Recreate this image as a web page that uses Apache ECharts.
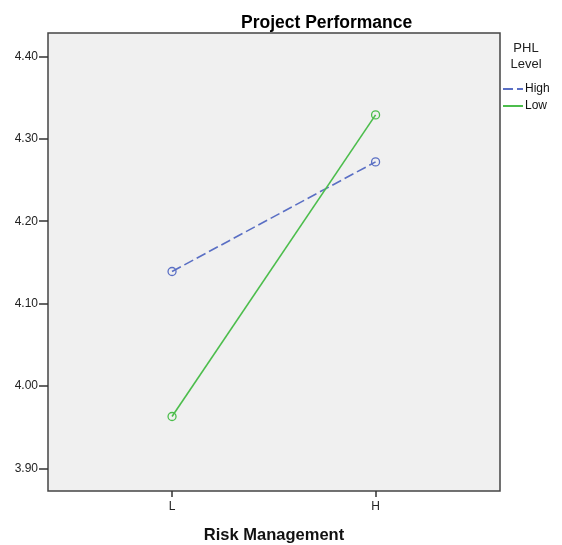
<!DOCTYPE html>
<html><head><meta charset="utf-8">
<script src="https://cdn.jsdelivr.net/npm/echarts@6/dist/echarts.min.js"></script>
<style>html,body{margin:0;padding:0;background:#fff}#c{width:562px;height:545px}</style>
</head><body><div id="c"></div>
<script>
var categories = ['L', 'H'];
var highValues = [4.139, 4.272];
var lowValues = [3.963, 4.329];
var yTicks = [3.90, 4.00, 4.10, 4.20, 4.30, 4.40];
var seriesNames = ['High', 'Low'];

function pts(vals) { return vals.map(function (v, i) { return [i + 1, v]; }); }
var xPos = categories.map(function (c, i) { return i + 1; });

var chart = echarts.init(document.getElementById('c'), null, {renderer: 'canvas'});
chart.setOption({
  animation: false,
  backgroundColor: '#ffffff',
  textStyle: {fontFamily: 'Liberation Sans, Arial, sans-serif'},
  title: {
    text: 'Project Performance', left: 236, top: 9,
    textStyle: {fontSize: 17.5, fontWeight: 'bold', color: '#000', fontFamily: 'Liberation Sans'}
  },
  graphic: [{
    type: 'text', x: 526, y: 40,
    style: {text: 'PHL\nLevel', fontSize: 13, lineHeight: 16, fill: '#222', align: 'center', fontFamily: 'Liberation Sans'}
  }],
  legend: {
    orient: 'vertical', left: 497, top: 78, itemWidth: 20, itemHeight: 10, itemGap: 5,
    textStyle: {fontSize: 12, color: '#111', padding: [0, 0, 0, -3]},
    data: seriesNames,
    itemStyle: {opacity: 0}
  },
  grid: {
    left: 48, top: 33, width: 452, height: 458, show: true, outerBoundsMode: 'none',
    backgroundColor: '#f0f0f0', borderColor: '#444', borderWidth: 1.5
  },
  xAxis: {
    type: 'value', min: 0.3906, max: 2.6113,
    name: 'Risk Management', nameLocation: 'middle', nameGap: 36,
    nameTextStyle: {fontSize: 16.5, fontWeight: 'bold', color: '#111'},
    axisLine: {show: false},
    splitLine: {show: false},
    axisTick: {show: true, length: 6, customValues: xPos, lineStyle: {color: '#333', width: 1.5}},
    axisLabel: {show: true, customValues: xPos, fontSize: 12, color: '#222', margin: 10,
      formatter: function (v) { return categories[Math.round(v) - 1]; }}
  },
  yAxis: {
    type: 'value', min: 3.8726, max: 4.4284,
    axisLine: {show: false},
    splitLine: {show: false},
    axisTick: {show: true, length: 9, customValues: yTicks, lineStyle: {color: '#333', width: 1.5}},
    axisLabel: {show: true, customValues: yTicks, fontSize: 12, color: '#222', margin: 10,
      formatter: function (v) { return v.toFixed(2); }}
  },
  series: [{
    name: seriesNames[0], type: 'line', data: pts(highValues),
    symbol: 'circle', symbolSize: 8,
    lineStyle: {color: '#5a6fc4', width: 1.6, type: [10, 4]},
    itemStyle: {color: 'rgba(0,0,0,0)', borderColor: '#5a6fc4', borderWidth: 1.3}
  }, {
    name: seriesNames[1], type: 'line', data: pts(lowValues),
    symbol: 'circle', symbolSize: 8,
    lineStyle: {color: '#4cbd4c', width: 1.6},
    itemStyle: {color: 'rgba(0,0,0,0)', borderColor: '#4cbd4c', borderWidth: 1.3}
  }]
});
</script></body></html>
